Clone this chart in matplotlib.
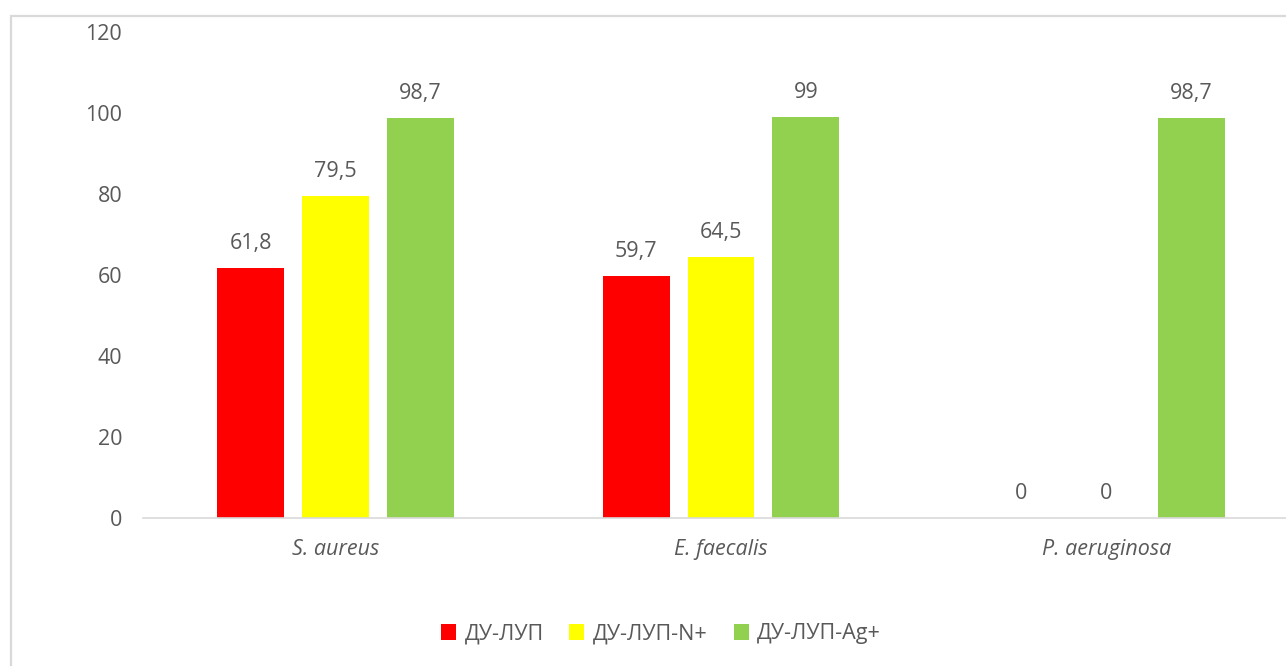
import matplotlib
matplotlib.use("Agg")
import matplotlib.pyplot as plt
from matplotlib.patches import Rectangle
import numpy as np

plt.rcParams['font.family'] = ['Open Sans', 'DejaVu Sans']

categories = ["S. aureus", "E. faecalis", "P. aeruginosa"]
series_names = ["ДУ-ЛУП", "ДУ-ЛУП-N+", "ДУ-ЛУП-Ag+"]
values = [
    [61.8, 59.7, 0],
    [79.5, 64.5, 0],
    [98.7, 99, 98.7],
]
labels = [
    ["61,8", "59,7", "0"],
    ["79,5", "64,5", "0"],
    ["98,7", "99", "98,7"],
]
colors = ["#FF0000", "#FFFF00", "#92D050"]
yticks = [0, 20, 40, 60, 80, 100, 120]

TXT = "#595959"
FS = 15.5
W, H = 1286, 666
fig = plt.figure(figsize=(W / 100, H / 100), dpi=100)

# chart frame
fig.patches.append(Rectangle((11 / W, -0.2), 1.3, 1 - 15.5 / H + 0.2,
                             transform=fig.transFigure, fill=False,
                             edgecolor="#D9D9D9", linewidth=1.6))

ax_left, ax_right = 143 / W, 1299 / W
ax_bottom, ax_top = 1 - 518 / H, 1 - 32 / H
ax = fig.add_axes([ax_left, ax_bottom, ax_right - ax_left, ax_top - ax_bottom])
ax.set_facecolor("none")

x = np.arange(len(categories))
bw = 67 / 386
step = 85 / 386
for i, (name, vals, labs, c) in enumerate(zip(series_names, values, labels, colors)):
    xs = x + (i - 1) * step
    ax.bar(xs, vals, width=bw, color=c, label=name, zorder=2)
    for xi, v, lab in zip(xs, vals, labs):
        ax.annotate(lab, (xi, v), xytext=(0, 17.5), textcoords="offset points",
                    ha="center", va="center", fontsize=FS, color=TXT)

ax.set_xlim(-0.5, 2.5)
ax.set_ylim(0, 120)
ax.set_yticks(yticks)
ax.set_yticklabels([str(t) for t in yticks], fontsize=FS, color=TXT)
ax.tick_params(axis="y", length=0, pad=15)
ax.set_xticks(x)
ax.set_xticklabels(categories, fontsize=FS, color=TXT, style="italic")
ax.tick_params(axis="x", length=0, pad=15)
for s in ["top", "right", "left"]:
    ax.spines[s].set_visible(False)
ax.spines["bottom"].set_color("#D9D9D9")
ax.spines["bottom"].set_linewidth(1.2)

leg = fig.legend(loc="center", bbox_to_anchor=(661 / W, 1 - 634 / H), ncol=3,
                 frameon=False, fontsize=FS, handlelength=0.7, handleheight=0.7,
                 handletextpad=0.4, columnspacing=1.2)
for t in leg.get_texts():
    t.set_color(TXT)

fig.savefig("out.png", dpi=100)
